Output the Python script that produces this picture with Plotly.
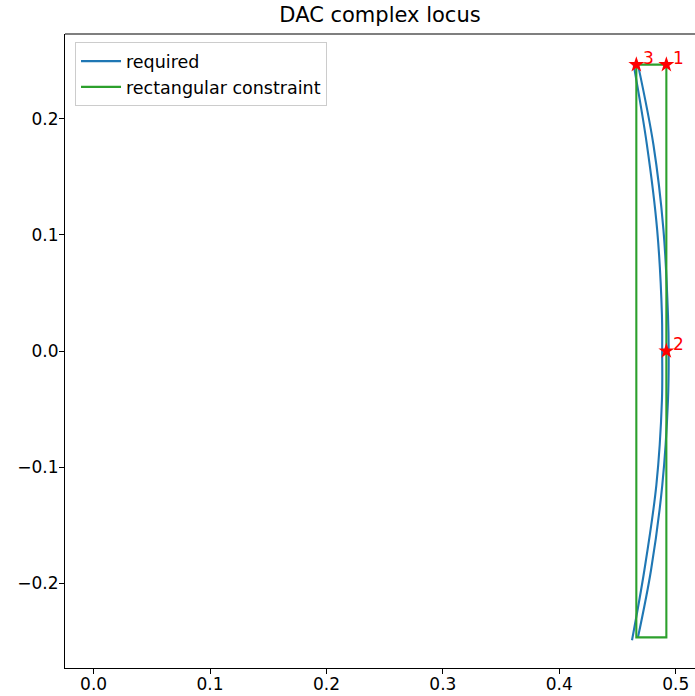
import plotly.graph_objects as go

# "required" locus (two arcs)
req_a_x = [0.4625, 0.4731, 0.4834, 0.4882, 0.4884, 0.4882, 0.4841, 0.4753, 0.4639]
req_a_y = [-0.2491, -0.1888, -0.1155, -0.0422, 0.0, 0.0310, 0.1043, 0.1776, 0.2466]
req_b_x = [0.4676, 0.4809, 0.4895, 0.4934, 0.4940, 0.4934, 0.4885, 0.4788, 0.4676]
req_b_y = [0.2466, 0.1776, 0.1043, 0.0310, 0.0, -0.0422, -0.1155, -0.1888, -0.2466]

# rectangular constraint
rect_x = [0.4920, 0.4920, 0.4662, 0.4662, 0.4920]
rect_y = [0.2466, -0.2466, -0.2466, 0.2466, 0.2466]

# marked points
pt_x = [0.4920, 0.4920, 0.4662]
pt_y = [0.2466, 0.0, 0.2466]
pt_labels = ["1", "2", "3"]

x_ticks = [0.0, 0.1, 0.2, 0.3, 0.4, 0.5]
y_ticks = [-0.2, -0.1, 0.0, 0.1, 0.2]

BLUE = "#1f77b4"
GREEN = "#2ca02c"
RED = "#ff0000"
FONT = "DejaVu Sans"

fig = go.Figure()
fig.add_trace(go.Scatter(x=req_a_x, y=req_a_y, mode="lines", name="required",
                         line=dict(color=BLUE, width=2.1, shape="spline", smoothing=1.0),
                         legendgroup="req"))
fig.add_trace(go.Scatter(x=req_b_x, y=req_b_y, mode="lines", name="required",
                         line=dict(color=BLUE, width=2.1, shape="spline", smoothing=1.0),
                         legendgroup="req", showlegend=False))
fig.add_trace(go.Scatter(x=rect_x, y=rect_y, mode="lines", name="rectangular constraint",
                         line=dict(color=GREEN, width=2.1)))
fig.add_trace(go.Scatter(x=pt_x, y=pt_y, mode="markers", showlegend=False,
                         marker=dict(symbol="star", size=12, color=RED, line=dict(width=0))))

for x, y, t in zip(pt_x, pt_y, pt_labels):
    fig.add_annotation(x=x, y=y, text=t, showarrow=False, xanchor="left", yanchor="bottom",
                       xshift=5, yshift=-5, font=dict(family=FONT, size=17, color=RED))

axis_common = dict(showgrid=False, zeroline=False, showline=True, linecolor="black", linewidth=1.1,
                   ticks="outside", ticklen=5, tickwidth=1.1, tickcolor="black", automargin=False,
                   tickfont=dict(family=FONT, size=17, color="black"), mirror=False)

fig.update_layout(
    width=695, height=696,
    margin=dict(l=65, r=0, t=34, b=28, autoexpand=False),
    paper_bgcolor="white", plot_bgcolor="white",
    title=dict(text="DAC complex locus", x=0.5, xref="paper", xanchor="center",
               y=1 - 15 / 696, yref="container", yanchor="middle",
               font=dict(family=FONT, size=21, color="black")),
    xaxis=dict(range=[-0.0246, 0.5166], tickvals=x_ticks, tickformat=".1f",
               ticklabelstandoff=-4, **axis_common),
    yaxis=dict(range=[-0.273, 0.273], tickvals=y_ticks, tickformat=".1f",
               ticklabelstandoff=-3, **axis_common),
    legend=dict(x=0.0159, y=0.987, xanchor="left", yanchor="top",
                bgcolor="rgba(255,255,255,0.8)", bordercolor="#cccccc", borderwidth=1,
                font=dict(family=FONT, size=17.5, color="black"),
                tracegroupgap=0, itemwidth=40),
    showlegend=True,
)
# top spine
fig.add_shape(type="line", xref="paper", yref="paper", x0=0, x1=1, y0=1, y1=1,
              line=dict(color="black", width=1.1))

fig.write_html("out.html")
